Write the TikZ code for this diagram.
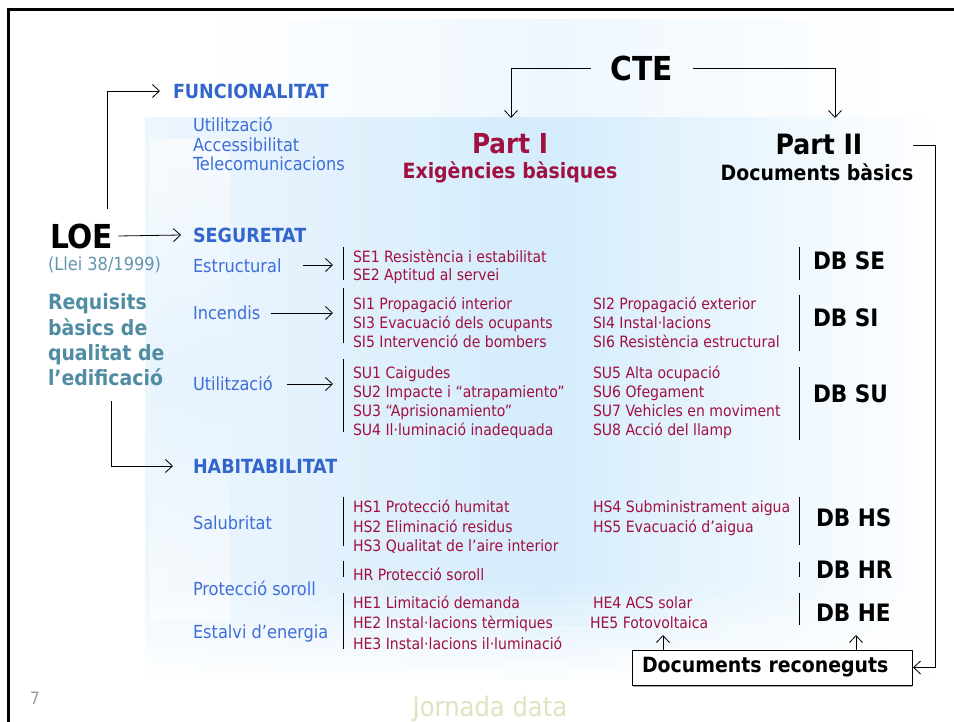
\documentclass[tikz,border=0pt]{standalone}
\usepackage{fontspec}
\setmainfont{DejaVu Sans Condensed}
\usetikzlibrary{arrows.meta}
\definecolor{hdrblue}{RGB}{51,102,204}
\definecolor{itblue}{RGB}{62,110,214}
\definecolor{itred}{RGB}{160,16,64}
\definecolor{teal}{RGB}{80,140,162}
\definecolor{lleic}{RGB}{100,150,175}
\definecolor{jorn}{RGB}{226,226,190}
\definecolor{bgblue}{RGB}{212,236,252}
\definecolor{bgside}{RGB}{238,246,253}
\definecolor{bgtop}{RGB}{238,247,254}
\begin{document}
\begin{tikzpicture}[x=1pt,y=-1pt,
  every node/.style={inner sep=0pt, outer sep=0pt},
  arr/.style={-{Straight Barb[length=7pt,width=13pt]}, line width=0.8pt},
  conn/.style={line width=0.8pt},
  bar/.style={line width=1pt},
  hdr/.style={anchor=west, text=hdrblue, font=\bfseries\fontsize{19.5}{19.5}\selectfont},
  cat/.style={anchor=west, text=itblue, text height=16pt, text depth=3pt, font=\fontsize{18}{18}\selectfont},
  req/.style={anchor=west, text=itred, text height=15pt, text depth=3pt, font=\fontsize{15.6}{15.6}\selectfont},
  db/.style={anchor=west, text=black, font=\bfseries\fontsize{24}{24}\selectfont},
  teach/.style={anchor=west, text=teal, text height=17.5pt, text depth=2.5pt, font=\bfseries\fontsize{21}{21}\selectfont}
]
\useasboundingbox (0,0) rectangle (954,722);
\fill[white] (0,0) rectangle (954,722);
\shade[left color=white, right color=white, middle color=bgtop] (200,20) rectangle (900,118);
\shade[left color=bgside, right color=white, middle color=bgblue] (145,118) rectangle (940,690);
\shade[top color=white, bottom color=white, middle color=bgside!60!bgblue, opacity=0.6] (150,140) rectangle (230,620);
\foreach \i [evaluate=\i as \op using \i/10] in {1,...,10}
  \fill[white, opacity=\op] (144,{585+(\i-1)*10.6}) rectangle (941,{596+(\i-1)*10.6});

\draw[line width=3pt] (8,722) -- (8,10) -- (954,10);

% top
\node[font=\bfseries\fontsize{33}{33}\selectfont, inner xsep=20pt] (cte) at (642,68) {CTE};
\coordinate (p1in) at (511,118);
\coordinate (p2in) at (835,118);
\draw[conn,arr] (cte.west) -| (p1in);
\draw[conn,arr] (cte.east) -| (p2in);
\node[text=itred, font=\bfseries\fontsize{27.5}{27.5}\selectfont] (part1) at (510,144) {Part I};
\node[text=itred, font=\bfseries\fontsize{21}{21}\selectfont] (exig) at (510,172) {Exigències bàsiques};
\node[font=\bfseries\fontsize{28}{28}\selectfont] (part2) at (819,144) {Part II};
\node[font=\bfseries\fontsize{21}{21}\selectfont] (docb) at (817,172) {Documents bàsics};

% LOE side
\node[anchor=west, font=\bfseries\fontsize{33}{33}\selectfont] (loe) at (50,236) {LOE};
\node[anchor=west, text=lleic, font=\fontsize{18}{18}\selectfont] (llei) at (48,265) {(Llei 38/1999)};
\node[teach] (rq1) at (48,302) {Requisits};
\node[teach] (rq2) at (48,328) {bàsics de};
\node[teach] (rq3) at (48,353) {qualitat de};
\node[teach] (rq4) at (48,378) {l’edificació};

\node[hdr] (func) at (173,91) {FUNCIONALITAT};
\node[hdr] (seg) at (193,235) {SEGURETAT};
\node[hdr] (hab) at (193,466) {HABITABILITAT};
\coordinate (loeup) at (107,209);
\coordinate (loedn) at (111,401);
\draw[conn,arr] (loeup) |- ([xshift=-13pt]func.west);
\draw[conn,arr] ([xshift=5pt]loe.east) -- ([xshift=-12pt]seg.west);
\draw[conn,arr] (loedn) |- ([xshift=-20pt]hab.west);

\node[cat] (uti) at (193,125) {Utilització};
\node[cat] (acc) at (193,145) {Accessibilitat};
\node[cat] (tel) at (193,164) {Telecomunicacions};

% Seguretat
\node[cat] (estr) at (193,266) {Estructural};
\node[cat] (inc) at (193,313) {Incendis};
\node[cat] (util) at (193,384) {Utilització};
\coordinate (se) at (333,265);
\coordinate (si) at (333,313);
\coordinate (su) at (333,384);
\draw[conn,arr] ([xshift=-30pt]se) -- (se);
\draw[conn,arr] ([xshift=-62pt]si) -- (si);
\draw[conn,arr] ([xshift=-46pt]su) -- (su);

\draw[bar] (343,247) -- (343,280);
\draw[bar] (343,288) -- (343,343);
\draw[bar] (343,359) -- (343,432);
\draw[bar] (343,497) -- (343,546);
\draw[bar] (343,561) -- (343,577);
\draw[bar] (343,593) -- (343,649);

\draw[bar] (799,247) -- (799,280);
\draw[bar] (799,295) -- (799,351);
\draw[bar] (799,367) -- (799,440);
\draw[bar] (799,497) -- (799,545);
\draw[bar] (799,562) -- (799,577);
\draw[bar] (799,593) -- (799,625);

\node[req] (se1) at (353,257) {SE1 Resistència i estabilitat};
\node[req] (se2) at (353,275) {SE2 Aptitud al servei};
\node[req] (si1) at (353,304) {SI1 Propagació interior};
\node[req] (si3) at (353,323) {SI3 Evacuació dels ocupants};
\node[req] (si5) at (353,342) {SI5 Intervenció de bombers};
\node[req] (si2) at (593,304) {SI2 Propagació exterior};
\node[req] (si4) at (593,323) {SI4 Instal·lacions};
\node[req] (si6) at (593,342) {SI6 Resistència estructural};
\node[req] (su1) at (353,372) {SU1 Caigudes};
\node[req] (su2) at (353,391) {SU2 Impacte i “atrapamiento”};
\node[req] (su3) at (353,410) {SU3 “Aprisionamiento”};
\node[req] (su4) at (353,429) {SU4 Il·luminació inadequada};
\node[req] (su5) at (593,372) {SU5 Alta ocupació};
\node[req] (su6) at (593,391) {SU6 Ofegament};
\node[req] (su7) at (593,410) {SU7 Vehicles en moviment};
\node[req] (su8) at (593,429) {SU8 Acció del llamp};

\node[db] (dbse) at (813,261) {DB SE};
\node[db] (dbsi) at (813,318) {DB SI};
\node[db] (dbsu) at (813,394) {DB SU};

% Habitabilitat
\node[cat] (salu) at (193,523) {Salubritat};
\node[cat] (prot) at (193,589) {Protecció soroll};
\node[cat] (esta) at (193,632) {Estalvi d’energia};
\node[req] (hs1) at (353,506) {HS1 Protecció humitat};
\node[req] (hs2) at (353,526) {HS2 Eliminació residus};
\node[req] (hs3) at (353,545) {HS3 Qualitat de l’aire interior};
\node[req] (hs4) at (593,506) {HS4 Subministrament aigua};
\node[req] (hs5) at (593,526) {HS5 Evacuació d’aigua};
\node[req] (hr) at (353,574) {HR Protecció soroll};
\node[req] (he1) at (353,602) {HE1 Limitació demanda};
\node[req] (he2) at (353,622) {HE2 Instal·lacions tèrmiques};
\node[req] (he3) at (353,643) {HE3 Instal·lacions il·luminació};
\node[req] (he4) at (593,602) {HE4 ACS solar};
\node[req] (he5) at (590,622) {HE5 Fotovoltaica};
\node[db] (dbhs) at (816,518) {DB HS};
\node[db] (dbhr) at (816,570) {DB HR};
\node[db] (dbhe) at (816,613) {DB HE};

% Documents reconeguts
\draw[gray!70, line width=2pt] (633,686) -- (912,686);
\node[draw, line width=1pt, fill=white, text width=260pt, align=left, inner xsep=10pt,
      minimum height=35pt, font=\bfseries\fontsize{21}{21}\selectfont] (docr) at (772,667.5) {Documents reconeguts};
\coordinate (uA) at (663,635);
\coordinate (uB) at (856,635);
\draw[conn,arr] (docr.north -| uA) -- (uA);
\draw[conn,arr] (docr.north -| uB) -- (uB);
\coordinate (rt) at (935,145);
\draw[conn,arr] (docb.east |- rt) -- (rt) |- ([xshift=1pt]docr.east);

% footer
\node[text=gray!80, font=\fontsize{17}{17}\selectfont] (num) at (35,698) {7};
\node[text=jorn, font=\fontsize{27}{27}\selectfont] (jd) at (490,709) {Jornada data};
\end{tikzpicture}
\end{document}
